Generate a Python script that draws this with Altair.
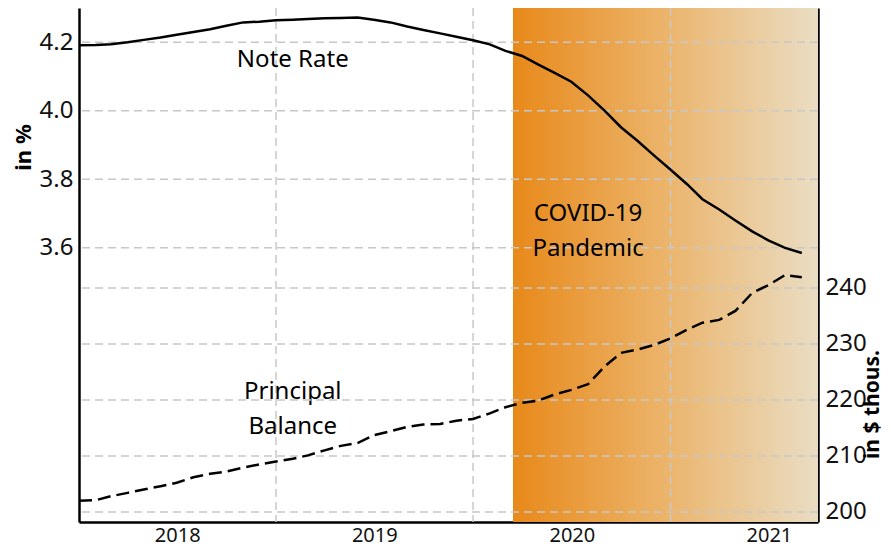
import altair as alt
import pandas as pd

# ---------------- data ----------------
months = [
    "2018-01-01", "2018-02-01", "2018-03-01", "2018-04-01", "2018-05-01", "2018-06-01",
    "2018-07-01", "2018-08-01", "2018-09-01", "2018-10-01", "2018-11-01", "2018-12-01",
    "2019-01-01", "2019-02-01", "2019-03-01", "2019-04-01", "2019-05-01", "2019-06-01",
    "2019-07-01", "2019-08-01", "2019-09-01", "2019-10-01", "2019-11-01", "2019-12-01",
    "2020-01-01", "2020-02-01", "2020-03-01", "2020-04-01", "2020-05-01", "2020-06-01",
    "2020-07-01", "2020-08-01", "2020-09-01", "2020-10-01", "2020-11-01", "2020-12-01",
    "2021-01-01", "2021-02-01", "2021-03-01", "2021-04-01", "2021-05-01", "2021-06-01",
    "2021-07-01", "2021-08-01", "2021-09-01",
]
note_rate = [
    4.191, 4.192, 4.194, 4.200, 4.207, 4.214, 4.222, 4.230, 4.238, 4.248, 4.258, 4.260,
    4.264, 4.266, 4.268, 4.270, 4.271, 4.272, 4.266, 4.258, 4.246, 4.236, 4.226, 4.216,
    4.206, 4.194, 4.175, 4.160, 4.135, 4.110, 4.085, 4.045, 4.000, 3.952, 3.912, 3.870,
    3.828, 3.785, 3.742, 3.712, 3.680, 3.648, 3.622, 3.600, 3.585,
]
principal_balance = [
    202.0, 202.1, 202.8, 203.4, 204.0, 204.6, 205.2, 206.2, 206.8, 207.2, 207.9, 208.5,
    209.0, 209.5, 210.1, 211.0, 211.8, 212.3, 213.7, 214.4, 215.2, 215.6, 215.7, 216.3,
    216.6, 217.6, 218.7, 219.5, 219.9, 221.0, 221.8, 222.8, 226.0, 228.4, 229.0, 229.8,
    231.0, 232.6, 233.8, 234.3, 235.9, 239.1, 240.5, 242.3, 241.9,
]

left_ticks = [3.6, 3.8, 4.0, 4.2]
right_ticks = [200, 210, 220, 230, 240]
year_labels = [2018, 2019, 2020, 2021]
year_grid = ["2019-01-01", "2020-01-01", "2021-01-01"]

covid_start = "2020-03-15"
covid_end = "2021-10-01"

label_text = ["Note Rate", "Principal\nBalance", "COVID-19\nPandemic"]
label_date = ["2019-02-01", "2019-02-01", "2020-08-01"]
label_value = [4.147, 3.178, 3.699]

left_domain = [2.8, 4.3]
right_domain = [198.2, 290]

# ---------------- styling ----------------
FONT = "Noto Sans"
GRID = "#c8c8c8"
W, H = 739, 514

df = pd.DataFrame({"date": months, "rate": note_rate, "balance": principal_balance})
band = pd.DataFrame({"start": [covid_start], "end": [covid_end],
                     "lo": [left_domain[0]], "hi": [left_domain[1]]})
vgrid = pd.DataFrame({"date": year_grid})
hgrid_left = pd.DataFrame({"v": left_ticks})
hgrid_right = pd.DataFrame({"v": right_ticks})
labels = pd.DataFrame({"date": label_date, "v": label_value, "t": label_text})

xscale = alt.Scale(type="utc",
                   domain=[alt.DateTime(year=2018, month=1, date=1, utc=True),
                           alt.DateTime(year=2021, month=10, date=1, utc=True)])
xaxis = alt.Axis(values=[alt.DateTime(year=y, month=7, date=2, utc=True) for y in year_labels],
                 format="%Y", ticks=False, grid=False, title=None,
                 labelFontSize=20, labelFont=FONT, labelColor="#111",
                 labelPadding=3, domainColor="black", domainWidth=2.5)

lscale = alt.Scale(domain=left_domain, nice=False, zero=False)
rscale = alt.Scale(domain=right_domain, nice=False, zero=False)

lyaxis = alt.Axis(orient="left", values=left_ticks, format=".1f", ticks=False, grid=False,
                  labelFontSize=24, labelFont=FONT, labelColor="#111", labelPadding=6,
                  domainColor="black", domainWidth=2.5,
                  title="in %", titleFont=FONT, titleFontSize=22, titleFontWeight="bold",
                  titleAngle=270, titleAlign="center", titleBaseline="middle",
                  titleX=-56, titleY=139, titleColor="black")
ryaxis = alt.Axis(orient="right", values=right_ticks, format="d", ticks=False, grid=False,
                  labelFontSize=24, labelFont=FONT, labelColor="#111", labelPadding=7,
                  domainColor="black", domainWidth=2.5,
                  title="in $ thous.", titleFont=FONT, titleFontSize=21, titleFontWeight="bold",
                  titleAngle=270, titleAlign="center", titleBaseline="middle",
                  titleX=54, titleY=396, titleColor="black")

gradient = alt.Gradient(
    gradient="linear",
    stops=[alt.GradientStop(color="#e8891a", offset=0),
           alt.GradientStop(color="#ebb063", offset=0.45),
           alt.GradientStop(color="#eaddc3", offset=1)],
    x1=0, x2=1, y1=0, y2=0,
)

rect = alt.Chart(band).mark_rect(color=gradient).encode(
    x=alt.X("start:T", scale=xscale, axis=xaxis),
    x2="end:T",
    y=alt.Y("lo:Q", scale=lscale, axis=lyaxis),
    y2="hi:Q",
)

vrules = alt.Chart(vgrid).mark_rule(color=GRID, strokeDash=[8, 5], strokeWidth=1.5).encode(
    x=alt.X("date:T", scale=xscale, axis=xaxis),
)

hrules_left = alt.Chart(hgrid_left).mark_rule(color=GRID, strokeDash=[8, 5], strokeWidth=1.5).encode(
    y=alt.Y("v:Q", scale=lscale, axis=lyaxis),
)

rate_line = alt.Chart(df).mark_line(color="black", strokeWidth=2.5).encode(
    x=alt.X("date:T", scale=xscale, axis=xaxis),
    y=alt.Y("rate:Q", scale=lscale, axis=lyaxis),
)

texts = alt.Chart(labels).mark_text(
    font=FONT, fontSize=24, color="black", align="center", baseline="middle",
    lineBreak="\n", lineHeight=35,
).encode(
    x=alt.X("date:T", scale=xscale, axis=xaxis),
    y=alt.Y("v:Q", scale=lscale, axis=lyaxis),
    text="t:N",
)

hrules_right = alt.Chart(hgrid_right).mark_rule(color=GRID, strokeDash=[8, 5], strokeWidth=1.5).encode(
    y=alt.Y("v:Q", scale=rscale, axis=ryaxis),
)

balance_line = alt.Chart(df).mark_line(color="black", strokeWidth=2.5, strokeDash=[13, 6]).encode(
    x=alt.X("date:T", scale=xscale, axis=xaxis),
    y=alt.Y("balance:Q", scale=rscale, axis=ryaxis),
)

left = alt.layer(rect, vrules, hrules_left, rate_line, texts)
right = alt.layer(hrules_right, balance_line)

chart = alt.layer(left, right).resolve_scale(y="independent").properties(
    width=W, height=H,
    autosize=alt.AutoSizeParams(type="none"),
    padding={"left": 71, "top": 0, "right": 65, "bottom": 27},
).configure_view(stroke=None)

chart.save("out.html", embed_options={"renderer": "svg", "actions": False})
